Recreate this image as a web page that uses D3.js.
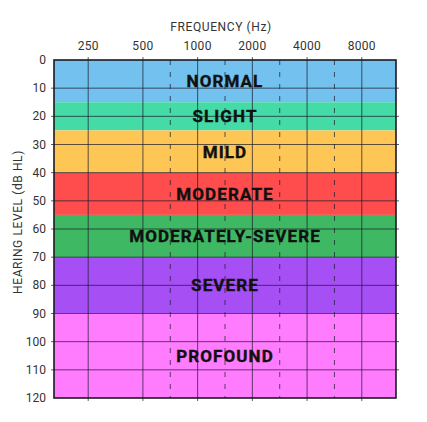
<!DOCTYPE html>
<html>
<head>
<meta charset="utf-8">
<script src="https://cdn.jsdelivr.net/npm/d3@7"></script>
<style>
body { margin: 0; background: #fff; }
text { font-family: Roboto, "DejaVu Sans", sans-serif; }
</style>
</head>
<body>
<svg id="viz" width="427" height="422"></svg>
<script>
// hearing loss bands (dB HL)
var bandNames = ["NORMAL", "SLIGHT", "MILD", "MODERATE", "MODERATELY-SEVERE", "SEVERE", "PROFOUND"];
var bandFrom = [0, 15, 25, 40, 55, 70, 90];
var bandTo = [15, 25, 40, 55, 70, 90, 120];
var bandColors = ["#72c1ee", "#44dba6", "#fdc655", "#ff4c4c", "#3fb863", "#a54ff5", "#ff7cff"];

// frequencies, placed by octave index
var freqLabels = ["250", "500", "1000", "2000", "4000", "8000"];
var freqIndex = [0, 1, 2, 3, 4, 5];
var halfIndex = [1.5, 2.5, 3.5, 4.5]; // 750, 1500, 3000, 6000
var dbTicks = [0, 10, 20, 30, 40, 50, 60, 70, 80, 90, 100, 110, 120];

var svg = d3.select("#viz");
var plotL = 54, plotR = 396, plotT = 60, plotB = 398;

var x = d3.scaleLinear().domain([-0.625, 5.625]).range([plotL, plotR]);
var y = d3.scaleLinear().domain([0, 120]).range([plotT, plotB]);

// bands
svg.selectAll("rect.band")
    .data(bandNames)
    .enter()
    .append("rect")
    .classed("band", true)
    .attr("x", plotL)
    .attr("width", plotR - plotL)
    .attr("y", function(d, i) { return y(bandFrom[i]); })
    .attr("height", function(d, i) { return y(bandTo[i]) - y(bandFrom[i]); })
    .style("fill", function(d, i) { return bandColors[i]; });

// horizontal grid
svg.selectAll("line.hgrid")
    .data(dbTicks.slice(1, -1))
    .enter()
    .append("line")
    .classed("hgrid", true)
    .attr("x1", plotL - 3)
    .attr("x2", plotR + 3)
    .attr("y1", function(d) { return y(d); })
    .attr("y2", function(d) { return y(d); })
    .style("stroke", "#1a1a2a")
    .style("stroke-opacity", 0.7)
    .style("stroke-width", 1);

// solid octave lines
svg.selectAll("line.vgrid")
    .data(freqIndex)
    .enter()
    .append("line")
    .classed("vgrid", true)
    .attr("x1", function(d) { return x(d); })
    .attr("x2", function(d) { return x(d); })
    .attr("y1", plotT - 3)
    .attr("y2", plotB + 3)
    .style("stroke", "#1a1a2a")
    .style("stroke-opacity", 0.7)
    .style("stroke-width", 1);

// dashed half-octave lines
svg.selectAll("line.vhalf")
    .data(halfIndex)
    .enter()
    .append("line")
    .classed("vhalf", true)
    .attr("x1", function(d) { return x(d); })
    .attr("x2", function(d) { return x(d); })
    .attr("y1", plotT)
    .attr("y2", plotB)
    .style("stroke", "#1a1a2a")
    .style("stroke-opacity", 0.7)
    .style("stroke-width", 1)
    .style("stroke-dasharray", "5,7");

// frame
svg.append("rect")
    .attr("x", plotL)
    .attr("y", plotT)
    .attr("width", plotR - plotL)
    .attr("height", plotB - plotT)
    .style("fill", "none")
    .style("stroke", "#1a1a22")
    .style("stroke-width", 1.6);

// band labels
svg.selectAll("text.bandlabel")
    .data(bandNames)
    .enter()
    .append("text")
    .classed("bandlabel", true)
    .attr("x", (plotL + plotR) / 2)
    .attr("y", function(d, i) { return y((bandFrom[i] + bandTo[i]) / 2); })
    .attr("text-anchor", "middle")
    .attr("dominant-baseline", "central")
    .style("font-size", "17px")
    .style("font-weight", "bold")
    .style("letter-spacing", "1.1px")
    .style("fill", "#111")
    .style("stroke", "#111")
    .style("stroke-width", 0.4)
    .text(function(d) { return d; });

// frequency tick labels
svg.selectAll("text.xtick")
    .data(freqLabels)
    .enter()
    .append("text")
    .classed("xtick", true)
    .attr("x", function(d, i) { return x(freqIndex[i]); })
    .attr("y", 46)
    .attr("text-anchor", "middle")
    .attr("dominant-baseline", "central")
    .style("font-size", "12px")
    .style("letter-spacing", "0.3px")
    .style("fill", "#333")
    .text(function(d) { return d; });

// dB tick labels
svg.selectAll("text.ytick")
    .data(dbTicks)
    .enter()
    .append("text")
    .classed("ytick", true)
    .attr("x", 46)
    .attr("y", function(d) { return y(d); })
    .attr("text-anchor", "end")
    .attr("dominant-baseline", "central")
    .style("font-size", "12px")
    .style("fill", "#333")
    .text(function(d) { return d; });

// axis titles
svg.append("text")
    .attr("x", 221)
    .attr("y", 27)
    .attr("text-anchor", "middle")
    .attr("dominant-baseline", "central")
    .style("font-size", "12px")
    .style("letter-spacing", "0.6px")
    .style("fill", "#333")
    .text("FREQUENCY  (Hz)");

svg.append("text")
    .attr("transform", "translate(18,222) rotate(-90)")
    .attr("text-anchor", "middle")
    .attr("dominant-baseline", "central")
    .style("font-size", "12px")
    .style("letter-spacing", "0.6px")
    .style("fill", "#333")
    .text("HEARING LEVEL  (dB HL)");
</script>
</body>
</html>
